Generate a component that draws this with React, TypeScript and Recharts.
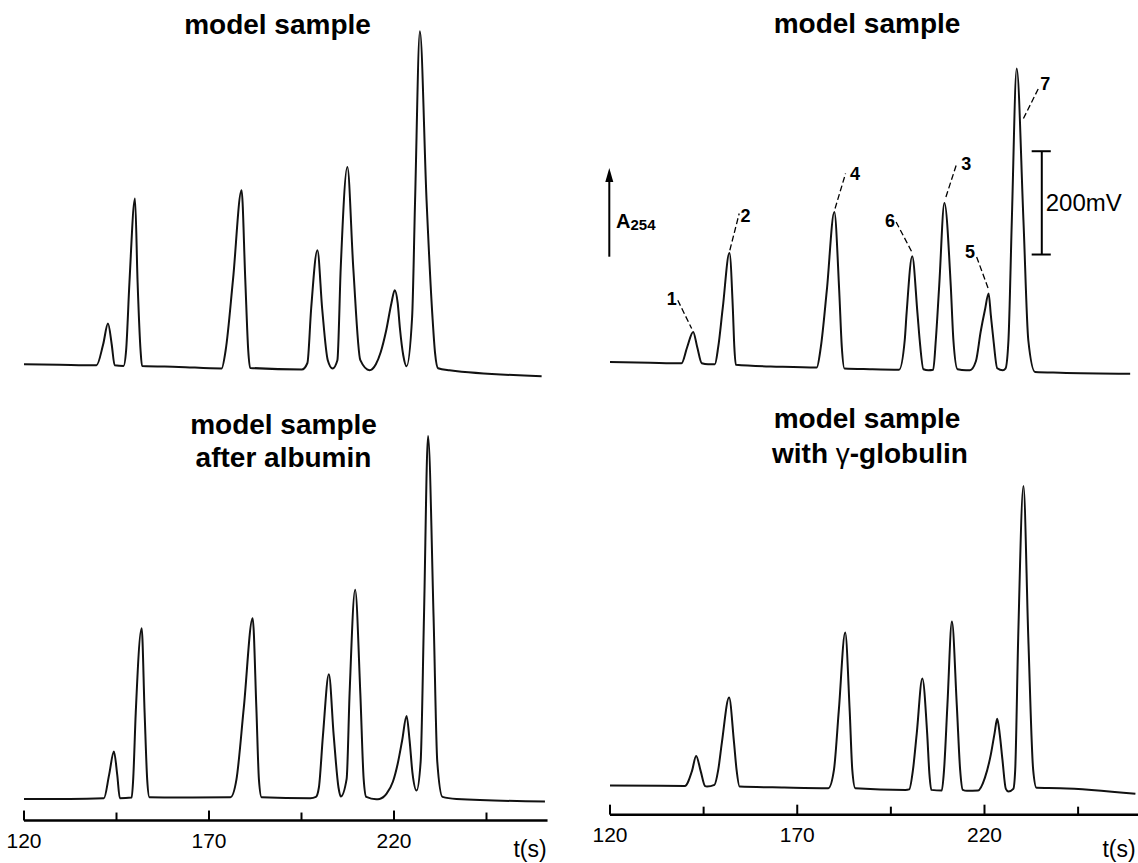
import React from "react"
import { LineChart, Line, XAxis, YAxis, ReferenceLine, ReferenceDot } from "recharts"

// retention time t (s) and A254 signal (mV)
const topLeftTime = [120, 129.6, 139.6, 141.4, 142.7, 143.7, 144.5, 146.9, 147.6, 148.5, 150.0, 150.7, 151.5, 151.9, 161.8, 173.4, 174.5, 176.5, 178.8, 179.8, 180.6, 181.1, 195.1, 196.6, 197.6, 199.3, 200.6, 202.1, 203.4, 204.7, 205.6, 207.4, 209.0, 210.9, 213.4, 215.1, 216.4, 217.9, 219.3, 220.2, 221.0, 221.6, 222.5, 223.4, 224.9, 225.7, 227.0, 228.8, 230.4, 231.1, 231.9, 235.0, 259.9]
const topLeftSignal = [11.6, 10.6, 9.7, 50.3, 90.4, 50.3, 9.7, 8.3, 38.7, 170.4, 332.4, 170.4, 38.7, 8.3, 6.4, 3.3, 38.7, 176.2, 348.5, 176.2, 38.7, 4.5, 1.4, 14, 118.1, 232.3, 118.1, 19.4, 3.3, 19.4, 197.5, 393.6, 197.5, 19.4, 0, 11.6, 34.8, 77.4, 129.7, 154.9, 129.7, 81.3, 29, 7.7, 103, 329.1, 656.3, 329.1, 103, 33, 3.9, 0, -11.6]

const topRightTime = [120, 130.7, 139.1, 140.6, 142.2, 143.3, 144.5, 146.2, 148.0, 148.9, 150.1, 151.9, 152.8, 153.2, 153.6, 165.4, 175.2, 176.3, 177.9, 179.9, 181.2, 181.9, 182.6, 189.4, 197.2, 198.7, 199.2, 200.7, 202.1, 202.7, 203.7, 205.0, 206.3, 207.0, 207.9, 209.3, 211.0, 211.7, 212.8, 215.1, 216.1, 217.7, 219.0, 220.1, 221.1, 221.7, 222.4, 223.4, 224.9, 225.6, 226.4, 227.3, 228.6, 230.4, 231.7, 233.5, 240.2, 258.9]
const topRightSignal = [16.1, 14.5, 13.5, 44.5, 74.1, 44.5, 13.5, 11.6, 11.6, 45, 120, 227.1, 120, 45, 10.6, 6.8, 5.2, 45, 154.9, 306.5, 154.9, 45, 3.3, 1.9, 1.0, 58, 110.4, 220.7, 110.4, 58, 1.9, 0, 1.0, 58, 162.6, 323.9, 162.6, 58, 1.9, 0, 0, 17.4, 75.5, 116, 148.5, 106, 58, 3.9, 0, 3, 58, 290.4, 584.1, 290.4, 58, -3.3, -4.8, -6.8]

const bottomLeftTime = [120, 132.4, 141.6, 143.0, 144.3, 145.2, 145.9, 149.1, 149.5, 150.2, 151.8, 152.6, 153.3, 153.9, 161.8, 175.8, 177.4, 179.4, 181.8, 182.8, 183.5, 184.2, 197.4, 198.9, 199.7, 200.8, 202.4, 203.7, 205.0, 205.6, 207.2, 208.0, 209.5, 210.9, 211.8, 212.5, 215.2, 216.1, 218.0, 219.7, 221.0, 222.2, 223.4, 224.2, 225.0, 226.1, 227.2, 228.1, 229.2, 230.7, 231.7, 233.1, 236.9, 260.8]
const bottomLeftSignal = [1.9, 1.9, 3.3, 48.4, 93.5, 48.4, 3.3, 4.5, 38.7, 168.4, 332.4, 168.4, 38.7, 5.2, 4.5, 5.2, 38.7, 178.1, 351.8, 178.1, 38.7, 5.2, 3.3, 5.8, 24, 124.9, 243.4, 124.9, 24, 6.4, 40.7, 206.2, 406.6, 206.2, 40.7, 5.8, 1.4, 1.9, 12, 35, 70, 115, 162.6, 116, 51.7, 18, 73.6, 353.3, 704.7, 353.3, 73.6, 5.8, 1.9, -3.3]

const bottomRightTime = [120, 140.0, 141.9, 143.0, 144.2, 145.4, 145.9, 147.9, 148.9, 149.9, 151.8, 153.1, 153.8, 154.6, 166.5, 178.3, 179.8, 181.1, 182.8, 184.0, 184.7, 185.5, 198.9, 199.9, 200.9, 201.9, 203.4, 204.7, 205.3, 205.8, 208.6, 209.2, 210.1, 211.3, 212.6, 213.5, 214.2, 215.3, 218.3, 220.1, 221.7, 222.7, 223.4, 224.1, 224.8, 225.7, 226.4, 227.7, 228.2, 229.0, 230.4, 231.7, 233.0, 233.9, 240.2, 260.3]
const bottomRightSignal = [8.3, 7.7, 36.8, 65.8, 36.8, 7.2, 6.4, 9.7, 38.7, 92.9, 178.7, 92.9, 38.7, 6.4, 4.5, 3.3, 38.7, 153.9, 304.5, 153.9, 38.7, 3.3, 0, 1.0, 38.7, 108.4, 215.5, 108.4, 30, 0, -1.0, 38.7, 164.6, 325.8, 164.6, 38.7, 0, -1.9, -1.0, 23.2, 68.7, 110, 137.5, 106, 58, 1.9, -3.3, 1.9, 38.7, 294.3, 588.5, 294.3, 38.7, 3.9, 3.3, -7.7]

const axisTicks = [120, 145, 170, 195, 220, 245]
const axisLabels = [120, 170, 220]

// peak numbering on the upper right trace: label spot and dashed leader, in (t, mV)
const peakNames = ["1", "2", "4", "6", "3", "5", "7"]
const peakLabelAt = [[136.5, 138.8], [156.2, 300], [185.4, 380.8], [194.8, 290.4], [215.1, 400], [216.1, 229], [236.2, 555.6]]
const leaderFrom = [[138.1, 135.5], [152.0, 232.3], [180.1, 313], [196.4, 287], [209.7, 335.5], [217.9, 219.3], [230.4, 487.3]]
const leaderTo = [[141.8, 80.7], [154.5, 303.4], [182.9, 380.8], [200.6, 229], [212.6, 400.2], [221.0, 158.2], [234.4, 545.4]]

// 200 mV scale bar
const barTime = 235.3
const barBottom = 224
const barSpan = 200

const FONT = '"Liberation Sans", Arial, Helvetica, sans-serif'
const PX_PER_MV = 0.5165
const PAD = 30

const AxisTick = (props: any) => {
  const { x, y, payload } = props
  const major = axisLabels.includes(payload.value)
  return (
    <g>
      <line x1={x} y1={y} x2={x} y2={y - (major ? 10 : 8)} stroke="#000" strokeWidth={2} />
      {major && (
        <text x={x} y={y + 27} textAnchor="middle" fontSize={21} fontFamily={FONT} fill="#000">
          {payload.value}
        </text>
      )}
    </g>
  )
}

function Trace({ time, signal, x0, pxPerS, tMax, yMin, yMax, zeroY, axis, children }: any) {
  const data = time.map((t: number, i: number) => ({ t, v: signal[i] }))
  const width = (tMax - 120) * pxPerS
  const plotH = (yMax - yMin) * PX_PER_MV
  const top = zeroY - yMax * PX_PER_MV
  const axisH = axis ? 45 : 0
  return (
    <div style={{ position: "absolute", left: x0 - PAD, top }}>
      <LineChart width={width + PAD} height={plotH + axisH} data={data} margin={{ top: 0, right: 0, bottom: 0, left: PAD }}>
        {axis ? (
          <XAxis
            type="number"
            dataKey="t"
            domain={[120, tMax]}
            allowDataOverflow
            height={axisH}
            ticks={axisTicks}
            interval={0}
            tickSize={0}
            tickMargin={0}
            tickLine={false}
            tick={(p: any) => <AxisTick {...p} />}
            axisLine={{ stroke: "#000", strokeWidth: 2.5 }}
          />
        ) : (
          <XAxis hide type="number" dataKey="t" domain={[120, tMax]} allowDataOverflow />
        )}
        <YAxis hide type="number" domain={[yMin, yMax]} allowDataOverflow />
        <Line type="monotone" dataKey="v" stroke="#111" strokeWidth={2} dot={false} isAnimationActive={false} />
        {children}
      </LineChart>
    </div>
  )
}

export default function App() {
  const left = { x0: 24.3, pxPerS: 3.7, tMax: 261.5 }
  const right = { x0: 610, pxPerS: 3.745, tMax: 261 }
  const titleStyle = { fontSize: 28, fontWeight: "bold" as const, textAnchor: "middle" as const }

  return (
    <div style={{ position: "absolute", left: 0, top: 0, width: 1138, height: 863, background: "#fff", overflow: "hidden" }}>
      <Trace time={topLeftTime} signal={topLeftSignal} {...left} yMin={-40} yMax={680} zeroY={370} />
      <Trace time={topRightTime} signal={topRightSignal} {...right} yMin={-40} yMax={680} zeroY={370}>
        {peakNames.map((name, i) => (
          <ReferenceLine
            key={`lead-${name}`}
            segment={[{ x: leaderFrom[i][0], y: leaderFrom[i][1] }, { x: leaderTo[i][0], y: leaderTo[i][1] }]}
            stroke="#000"
            strokeWidth={1.3}
            strokeDasharray="6 3"
          />
        ))}
        {peakNames.map((name, i) => (
          <ReferenceDot
            key={`lab-${name}`}
            x={peakLabelAt[i][0]}
            y={peakLabelAt[i][1]}
            r={0}
            fill="none"
            stroke="none"
            label={{ value: name, position: "center", fontSize: 18, fontWeight: "bold", fill: "#000", fontFamily: FONT }}
          />
        ))}
        <ReferenceLine segment={[{ x: barTime, y: barBottom }, { x: barTime, y: barBottom + barSpan }]} stroke="#000" strokeWidth={2} />
        <ReferenceLine segment={[{ x: barTime - 2.7, y: barBottom }, { x: barTime + 2.4, y: barBottom }]} stroke="#000" strokeWidth={2} />
        <ReferenceLine segment={[{ x: barTime - 2.7, y: barBottom + barSpan }, { x: barTime + 2.4, y: barBottom + barSpan }]} stroke="#000" strokeWidth={2} />
        <ReferenceDot
          x={barTime}
          y={barBottom + barSpan / 2}
          r={0}
          fill="none"
          stroke="none"
          label={{ value: "200mV", position: "right", offset: 4, fontSize: 24, fill: "#000", fontFamily: FONT }}
        />
      </Trace>
      <Trace time={bottomLeftTime} signal={bottomLeftSignal} {...left} yMin={-40} yMax={720} zeroY={800} axis />
      <Trace time={bottomRightTime} signal={bottomRightSignal} {...right} yMin={-48} yMax={720} zeroY={790} axis />

      <svg width={1138} height={863} style={{ position: "absolute", left: 0, top: 0, pointerEvents: "none" }} fontFamily={FONT} fill="#000">
        <text x={277.5} y={33.5} {...titleStyle}>model sample</text>
        <text x={867} y={33} {...titleStyle}>model sample</text>
        <text x={283.5} y={434} {...titleStyle}>model sample</text>
        <text x={283.5} y={467} {...titleStyle}>after albumin</text>
        <text x={867} y={428} {...titleStyle}>model sample</text>
        <text x={870} y={463} {...titleStyle}>
          with <tspan fontWeight="normal">γ</tspan>-globulin
        </text>
        <text x={530} y={857} textAnchor="middle" fontSize={23}>t(s)</text>
        <text x={1119} y={857} textAnchor="middle" fontSize={23}>t(s)</text>

        <line x1={609.3} y1={256.7} x2={609.3} y2={180} stroke="#000" strokeWidth={2} />
        <polygon points="609.3,168 605.3,182 613.3,182" fill="#000" />
        <text x={616} y={227.5} fontSize={20} fontWeight="bold">
          A<tspan fontSize={15} dy={2}>254</tspan>
        </text>
      </svg>
    </div>
  )
}
